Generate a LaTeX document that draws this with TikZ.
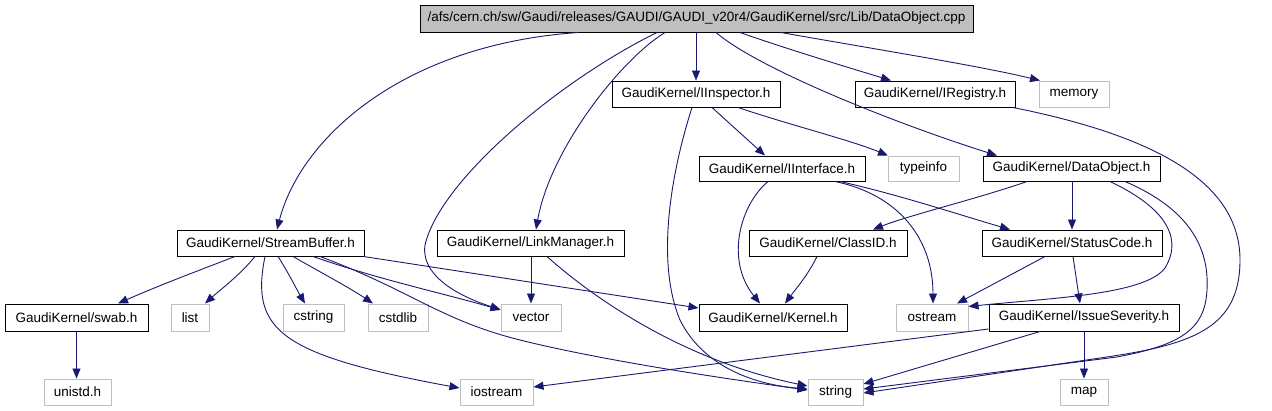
\documentclass[tikz,border=0pt]{standalone}
\usepackage{fontspec}
\setmainfont{Liberation Sans}
\usetikzlibrary{arrows.meta}
\definecolor{edgeblue}{HTML}{191970}
\definecolor{sysgray}{HTML}{BFBFBF}
\begin{document}
\begin{tikzpicture}[x=1pt,y=-1pt,
  box/.style={rectangle, inner sep=0pt, line width=1pt, font=\fontsize{13.5}{15}\selectfont},
  doc/.style={box, draw=black},
  sys/.style={box, draw=sysgray},
  rootbox/.style={box, draw=black, fill=sysgray},
  dep/.style={draw=edgeblue, line width=0.9pt, -{Triangle[length=10pt,width=8pt]}}
]
\useasboundingbox (0,0) rectangle (1272,410);
% nodes
\node[rootbox, minimum width=553pt, minimum height=27pt] (root) at (696.5,18.5) {/afs/cern.ch/sw/Gaudi/releases/GAUDI/GAUDI\_v20r4/GaudiKernel/src/Lib/DataObject.cpp};
\node[doc, minimum width=168pt, minimum height=26pt] (insp) at (696,94) {GaudiKernel/IInspector.h};
\node[doc, minimum width=160pt, minimum height=26pt] (ireg) at (935,94) {GaudiKernel/IRegistry.h};
\node[sys, minimum width=70pt, minimum height=26pt] (memory) at (1074,94) {memory};
\node[doc, minimum width=166pt, minimum height=25pt] (iint) at (782,168.5) {GaudiKernel/IInterface.h};
\node[sys, minimum width=71pt, minimum height=25pt] (typeinfo) at (923.5,168.5) {typeinfo};
\node[doc, minimum width=177pt, minimum height=25pt] (dobj) at (1071.5,168.5) {GaudiKernel/DataObject.h};
\node[doc, minimum width=187pt, minimum height=26pt] (sbuf) at (270.5,243) {GaudiKernel/StreamBuffer.h};
\node[doc, minimum width=187pt, minimum height=26pt] (lman) at (530.5,243) {GaudiKernel/LinkManager.h};
\node[doc, minimum width=158pt, minimum height=26pt] (clid) at (828,243) {GaudiKernel/ClassID.h};
\node[doc, minimum width=180pt, minimum height=26pt] (scode) at (1072,243) {GaudiKernel/StatusCode.h};
\node[doc, minimum width=143pt, minimum height=27pt] (swab) at (76.5,317.5) {GaudiKernel/swab.h};
\node[sys, minimum width=38pt, minimum height=27pt] (list) at (190,317.5) {list};
\node[sys, minimum width=61pt, minimum height=27pt] (cstring) at (313.5,317.5) {cstring};
\node[sys, minimum width=60pt, minimum height=27pt] (cstdlib) at (398,317.5) {cstdlib};
\node[sys, minimum width=60pt, minimum height=27pt] (vector) at (531,317.5) {vector};
\node[doc, minimum width=148pt, minimum height=27pt] (kernel) at (773,317.5) {GaudiKernel/Kernel.h};
\node[sys, minimum width=72pt, minimum height=27pt] (ostream) at (932,317.5) {ostream};
\node[doc, minimum width=190pt, minimum height=27pt] (isev) at (1084,317.5) {GaudiKernel/IssueSeverity.h};
\node[sys, minimum width=67pt, minimum height=26pt] (unistd) at (77.5,392) {unistd.h};
\node[sys, minimum width=73pt, minimum height=26pt] (iostream) at (496.5,392) {iostream};
\node[sys, minimum width=55pt, minimum height=26pt] (string) at (835.5,392) {string};
\node[sys, minimum width=48pt, minimum height=26pt] (map) at (1084,392) {map};
% edges from root
\draw[dep] ([xshift=-118.5pt]root.south) .. controls (400,45) and (300,140) .. ([xshift=6.5pt]sbuf.north);
\draw[dep] ([xshift=-39.5pt]root.south) .. controls (560,80) and (440,180) .. (425,245) .. controls (420,280) and (470,300) .. ([yshift=8pt]vector.west);
\draw[dep] ([xshift=-31.5pt]root.south) .. controls (620,60) and (550,150) .. ([xshift=5.5pt]lman.north);
\draw[dep] (root.south -| insp.north) -- (insp.north);
\draw[dep] ([xshift=19.5pt]root.south) .. controls (760,70) and (900,125) .. ([xshift=-74.5pt]dobj.north);
\draw[dep] ([xshift=43.5pt]root.south) .. controls (790,50) and (850,68) .. ([xshift=-44pt]ireg.north);
\draw[dep] ([xshift=84.5pt]root.south) .. controls (880,50) and (980,66) .. ([xshift=-34pt]memory.north);
% IInspector
\draw[dep] ([xshift=-4pt]insp.south) .. controls (672,170) and (655,260) .. (680,320) .. controls (705,370) and (760,385) .. ([yshift=3pt]string.west);
\draw[dep] ([xshift=16pt]insp.south) -- ([xshift=-17pt]iint.north);
\draw[dep] ([xshift=42pt]insp.south) .. controls (790,125) and (850,140) .. ([xshift=-35.5pt]typeinfo.north);
% IRegistry
\draw[dep] ([xshift=78pt]ireg.south) .. controls (1150,135) and (1240,180) .. (1240,260) .. controls (1240,330) and (1190,345) .. (1100,358) -- ([yshift=-1pt]string.east);
% IInterface
\draw[dep] ([xshift=-14pt]iint.south) .. controls (740,205) and (725,260) .. ([xshift=-13pt]kernel.north);
\draw[dep] ([xshift=53pt]iint.south) .. controls (900,195) and (933,240) .. ([xshift=1pt]ostream.north);
\draw[dep] ([xshift=58pt]iint.south) .. controls (900,195) and (960,215) .. ([xshift=-62pt]scode.north);
% DataObject
\draw[dep] ([xshift=-44.5pt]dobj.south) .. controls (980,198) and (910,215) .. ([xshift=45pt]clid.north);
\draw[dep] (dobj.south -| scode.north) -- (scode.north);
\draw[dep] ([xshift=38.5pt]dobj.south) .. controls (1160,205) and (1185,235) .. (1165,268) .. controls (1145,295) and (1050,298) .. ([yshift=-3pt]ostream.north east);
\draw[dep] ([xshift=53.5pt]dobj.south) .. controls (1180,205) and (1210,240) .. (1207,290) .. controls (1205,330) and (1180,345) .. (1117,357) -- ([yshift=3pt]string.east);
% StreamBuffer
\draw[dep] ([xshift=-35.5pt]sbuf.south) .. controls (200,270) and (160,285) .. ([xshift=41.5pt]swab.north);
\draw[dep] ([xshift=-15.5pt]sbuf.south) .. controls (240,275) and (220,290) .. ([xshift=15pt]list.north);
\draw[dep] ([xshift=7.5pt]sbuf.south) .. controls (288,272) and (297,290) .. ([xshift=-8.5pt]cstring.north);
\draw[dep] ([xshift=22.5pt]sbuf.south) .. controls (320,272) and (350,288) .. ([xshift=-25pt]cstdlib.north);
\draw[dep] ([xshift=42.5pt]sbuf.south) .. controls (380,280) and (450,295) .. ([yshift=7.5pt]vector.west);
\draw[dep] ([xshift=49.5pt]sbuf.south) .. controls (410,290) and (440,320) .. (520,340) .. controls (600,360) and (720,378) .. ([yshift=2pt]string.west);
\draw[dep] ([xshift=-5.5pt]sbuf.south) .. controls (250,330) and (280,355) .. ([yshift=4pt]iostream.west);
\draw[dep] ([xshift=-1pt]sbuf.south east) -- ([yshift=9.5pt]kernel.west);
% LinkManager
\draw[dep] (lman.south -| vector.north) -- (vector.north);
\draw[dep] ([xshift=16.5pt]lman.south) .. controls (590,295) and (680,360) .. ([yshift=6pt]string.west);
% ClassID, StatusCode
\draw[dep] ([xshift=-11pt]clid.south) .. controls (808,275) and (795,290) .. ([xshift=12pt]kernel.north);
\draw[dep] ([xshift=-27pt]scode.south) -- ([xshift=25pt]ostream.north);
\draw[dep] ([xshift=1pt]scode.south) -- ([xshift=-4pt]isev.north);
% IssueSeverity
\draw[dep] ([yshift=-11.5pt]isev.west) -- ([yshift=5pt]iostream.east);
\draw[dep] ([xshift=-44pt]isev.south) -- ([yshift=8pt]string.east);
\draw[dep] (isev.south) -- (isev.south |- map.north);
% swab
\draw[dep] (swab.south) -- (swab.south |- unistd.north);
\end{tikzpicture}
\end{document}
